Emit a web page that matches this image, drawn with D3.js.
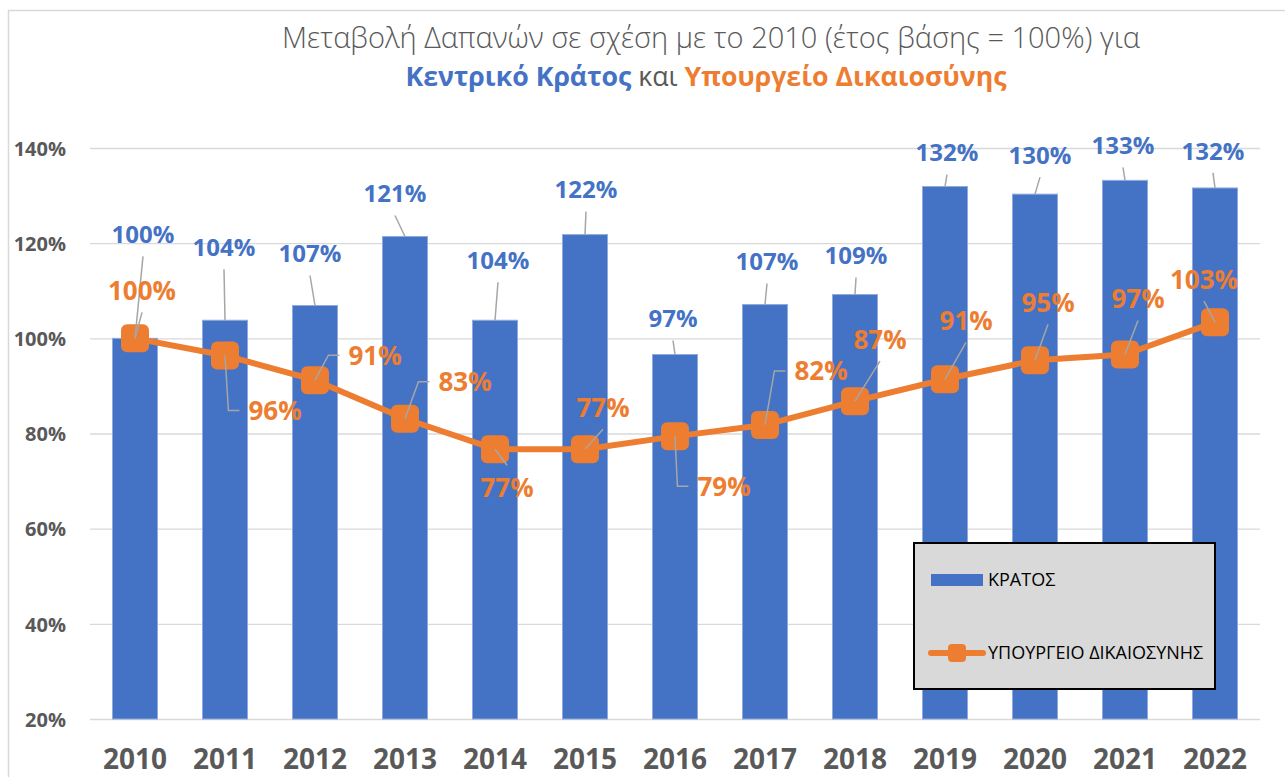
<!DOCTYPE html>
<html>
<head>
<meta charset="utf-8">
<script src="https://cdn.jsdelivr.net/npm/d3@7"></script>
<style>
  body { margin: 0; background: #fff; }
  svg text { font-family: "Open Sans", "Noto Sans", sans-serif; }
</style>
</head>
<body>
<div id="chart"></div>
<script>
const years = ["2010", "2011", "2012", "2013", "2014", "2015", "2016", "2017", "2018", "2019", "2020", "2021", "2022"];

// Κεντρικό Κράτος, index 2010 = 1
const kratos = [1.0, 1.038, 1.069, 1.214, 1.038, 1.218, 0.966, 1.071, 1.092, 1.319, 1.303, 1.332, 1.316];
// Υπουργείο Δικαιοσύνης, index 2010 = 1
const dikaiosyni = [1.0, 0.964, 0.912, 0.831, 0.767, 0.767, 0.794, 0.818, 0.868, 0.914, 0.954, 0.966, 1.034];

const seriesNames = ["ΚΡΑΤΟΣ", "ΥΠΟΥΡΓΕΙΟ ΔΙΚΑΙΟΣΥΝΗΣ"];
const yTicks = [0.2, 0.4, 0.6, 0.8, 1.0, 1.2, 1.4];

// the data labels were dragged by hand in the original, so keep their offsets
// (label centre minus anchor point, in px)
const barLabelOffset = [[8, -104], [-1, -73], [-5, -52], [-10, -43], [3, -60], [1, -45], [-2, -36], [2, -43], [1, -39], [2, -34], [5, -39], [-2, -35], [-2, -37]];
const lineLabelOffset = [[7, -48], [50, 55], [60, -25], [60, -37], [12, 38], [18, -42], [49, 50], [56, -54], [25, -62], [21, -59], [13, -58], [13, -56], [-11, -43]];

const blue = "#4472C4";
const orange = "#ED7D31";
const gray = "#595959";
const leaderColor = "#A6A6A6";

const width = 1285,
  height = 777;
const plot = { left: 90, right: 1260, top: 148, bottom: 719 };

const fmt = d3.format(".0%");

const svg = d3
  .select("#chart")
  .append("svg")
  .attr("width", width)
  .attr("height", height);

svg.append("rect").attr("width", width).attr("height", height).attr("fill", "#fff");

// chart area border (runs off the right/bottom edge)
svg
  .append("rect")
  .attr("x", 8.5)
  .attr("y", 10.5)
  .attr("width", 1320)
  .attr("height", 820)
  .attr("fill", "none")
  .attr("stroke", "#D9D9D9")
  .attr("stroke-width", 1.5);

// title
const title = svg.append("g").attr("text-anchor", "middle");
title
  .append("text")
  .attr("x", 711)
  .attr("y", 48)
  .attr("font-size", 29)
  .attr("font-weight", 300)
  .attr("fill", gray)
  .text("Μεταβολή Δαπανών σε σχέση με το 2010 (έτος βάσης = 100%) για");
const t2 = title.append("text").attr("x", 706).attr("y", 86).attr("font-size", 26.7);
t2.append("tspan").attr("fill", blue).attr("font-weight", "bold").text("Κεντρικό Κράτος");
t2.append("tspan").attr("fill", gray).text(" και ");
t2.append("tspan").attr("fill", orange).attr("font-weight", "bold").text("Υπουργείο Δικαιοσύνης");

const x = d3
  .scaleBand()
  .domain(years)
  .range([plot.left, plot.right])
  .paddingInner(0.5)
  .paddingOuter(0.25);

const y = d3.scaleLinear().domain([0.2, 1.4]).range([plot.bottom, plot.top]);

// horizontal gridlines + y labels
svg
  .append("g")
  .call(d3.axisLeft(y).tickValues(yTicks).tickFormat(fmt).tickSize(-(plot.right - plot.left)).tickPadding(24))
  .attr("transform", `translate(${plot.left},0)`)
  .call((g) => g.select(".domain").remove())
  .call((g) => g.selectAll(".tick line").attr("stroke", "#D9D9D9").attr("stroke-width", 1.3))
  .call((g) =>
    g
      .selectAll(".tick text")
      .attr("fill", gray)
      .attr("font-size", 20)
      .attr("font-weight", "bold")
      .attr("font-family", "Open Sans")
      .attr("dy", "0.36em")
  );

// x labels
svg
  .append("g")
  .attr("transform", `translate(0,${plot.bottom})`)
  .call(d3.axisBottom(x).tickSize(0).tickPadding(40))
  .call((g) => g.select(".domain").remove())
  .call((g) =>
    g
      .selectAll(".tick text")
      .attr("fill", gray)
      .attr("font-size", 28)
      .attr("font-weight", "bold")
      .attr("font-family", "Open Sans")
      .attr("dy", "0.36em")
  );

const cx = (i) => x(years[i]) + x.bandwidth() / 2;

// bars
svg
  .append("g")
  .selectAll("rect")
  .data(kratos)
  .join("rect")
  .attr("x", (d, i) => x(years[i]))
  .attr("y", (d) => y(d))
  .attr("width", x.bandwidth())
  .attr("height", (d) => y(0.2) - y(d))
  .attr("fill", blue)
  .attr("stroke", "#8FAADC")
  .attr("stroke-width", 1);

// line + markers
const line = d3
  .line()
  .x((d, i) => cx(i))
  .y((d) => y(d));

svg
  .append("path")
  .datum(dikaiosyni)
  .attr("fill", "none")
  .attr("stroke", orange)
  .attr("stroke-width", 6)
  .attr("stroke-linejoin", "round")
  .attr("d", line);

svg
  .append("g")
  .selectAll("rect")
  .data(dikaiosyni)
  .join("rect")
  .attr("x", (d, i) => cx(i) - 14)
  .attr("y", (d) => y(d) - 14)
  .attr("width", 28)
  .attr("height", 28)
  .attr("rx", 6)
  .attr("fill", orange);

// data labels
const leader = (lx, ly, halfW, px, py) => {
  const dx = px - lx;
  if (Math.abs(dx) > halfW + 4) {
    const sx = dx < 0 ? lx - halfW : lx + halfW;
    const ex = dx < 0 ? sx - 11 : sx + 11;
    return `M${sx},${ly}H${ex}L${px},${py}`;
  }
  const sy = py > ly ? ly + 22 : ly - 22;
  return `M${lx},${sy}L${px},${py}`;
};

const drawLabels = (values, offsets, color, size) => {
  const g = svg.append("g");
  const leaders = svg.append("g");
  values.forEach((v, i) => {
    const px = cx(i),
      py = y(v);
    const lx = px + offsets[i][0],
      ly = py + offsets[i][1];
    const t = g
      .append("text")
      .attr("x", lx)
      .attr("y", ly)
      .attr("dy", "0.36em")
      .attr("text-anchor", "middle")
      .attr("font-size", size)
      .attr("font-weight", "bold")
      .attr("fill", color)
      .text(fmt(v));
    const halfW = t.node().getComputedTextLength() / 2 + 9;
    leaders
      .append("path")
      .attr("d", leader(lx, ly, halfW, px, py))
      .attr("fill", "none")
      .attr("stroke", leaderColor)
      .attr("stroke-width", 1.5);
  });
};

drawLabels(kratos, barLabelOffset, blue, 24);
drawLabels(dikaiosyni, lineLabelOffset, orange, 26);

// legend
const legend = svg.append("g");
legend
  .append("rect")
  .attr("x", 914)
  .attr("y", 543)
  .attr("width", 301)
  .attr("height", 146)
  .attr("fill", "#D9D9D9")
  .attr("stroke", "#000")
  .attr("stroke-width", 2);

legend
  .append("rect")
  .attr("x", 931)
  .attr("y", 574)
  .attr("width", 52)
  .attr("height", 12)
  .attr("fill", blue);

legend
  .append("line")
  .attr("x1", 931)
  .attr("x2", 983)
  .attr("y1", 653)
  .attr("y2", 653)
  .attr("stroke", orange)
  .attr("stroke-width", 6)
  .attr("stroke-linecap", "round");

legend
  .append("rect")
  .attr("x", 948)
  .attr("y", 644)
  .attr("width", 18)
  .attr("height", 18)
  .attr("rx", 4)
  .attr("fill", orange);

legend
  .selectAll("text.key")
  .data(seriesNames)
  .join("text")
  .attr("class", "key")
  .attr("x", 988)
  .attr("y", (d, i) => (i === 0 ? 580 : 653))
  .attr("dy", "0.36em")
  .attr("font-size", 18)
  .attr("fill", "#000")
  .text((d) => d);
</script>
</body>
</html>
